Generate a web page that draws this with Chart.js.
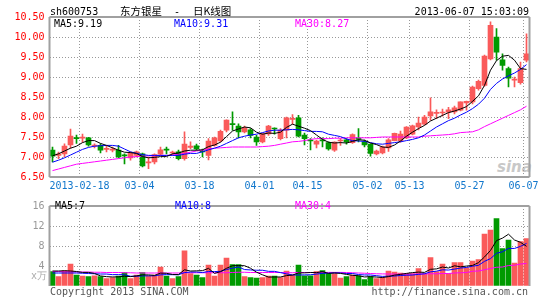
<!DOCTYPE html>
<html>
<head>
<meta charset="utf-8">
<script src="https://cdn.jsdelivr.net/npm/chart.js@4/dist/chart.umd.min.js"></script>
<style>
body { margin: 0; background: #fff; }
#wrap { position: relative; width: 545px; height: 300px; overflow: hidden; font-family: "DejaVu Sans Mono", monospace; font-size: 10px; }
canvas { position: absolute; left: 0; }
.t { position: absolute; white-space: pre; line-height: 10px; }
.cn { position: absolute; white-space: pre; font-family: 'Noto Sans CJK SC'; font-size: 10.5px; line-height: 12px; top: 5px; }
</style>
</head>
<body>
<div id="wrap">
  <div class="t" style="left:497px;top:160px;font:italic bold 15px 'DejaVu Sans';line-height:15px;color:#c8c8c8;">sina</div>
  <canvas id="kline" width="545" height="195" style="top:0"></canvas>
  <canvas id="vol" width="545" height="105" style="top:195px"></canvas>

  <div class="t" style="left:50px;top:7px">sh600753</div>
  <div class="cn" style="left:120px">东方银星</div>
  <div class="t" style="left:174px;top:7px">-</div>
  <div class="cn" style="left:193px">日K线图</div>
  <div class="t" style="right:16px;top:7px">2013-06-07 15:03:09</div>

  <div class="t" style="left:54px;top:19px;color:#000">MA5:9.19</div>
  <div class="t" style="left:174px;top:19px;color:#0000ff">MA10:9.31</div>
  <div class="t" style="left:295px;top:19px;color:#ff00ff">MA30:8.27</div>

  <div class="t" style="left:55px;top:201px;color:#000">MA5:7</div>
  <div class="t" style="left:175px;top:201px;color:#0000ff">MA10:8</div>
  <div class="t" style="left:295px;top:201px;color:#ff00ff">MA30:4</div>

  <div class="t" style="left:31px;top:271px;color:#aaa">x万</div>
  <div class="t" style="left:50px;top:287px;color:#555">Copyright 2013 SINA.COM</div>
  <div class="t" style="right:17px;top:287px;color:#555">http://finance.sina.com.cn</div>
</div>

<script>
// trading days, 2013-02-04 .. 2013-06-07
const dates = [
  '02-04','02-05','02-06','02-07','02-08','02-18','02-19','02-20','02-21','02-22',
  '02-25','02-26','02-27','02-28','03-01','03-04','03-05','03-06','03-07','03-08',
  '03-11','03-12','03-13','03-14','03-15','03-18','03-19','03-20','03-21','03-22',
  '03-25','03-26','03-27','03-28','03-29','04-01','04-02','04-03','04-08','04-09',
  '04-10','04-11','04-12','04-15','04-16','04-17','04-18','04-19','04-22','04-23',
  '04-24','04-25','04-26','05-02','05-03','05-06','05-07','05-08','05-09','05-10',
  '05-13','05-14','05-15','05-16','05-17','05-20','05-21','05-22','05-23','05-24',
  '05-27','05-28','05-29','05-30','05-31','06-03','06-04','06-05','06-06','06-07'
];
const shownDates = ['02-18','03-04','03-18','04-01','04-15','05-02','05-13','05-27','06-07'];
const yearPrefix = '2013-';

const open = [
  7.17,7.04,7.08,7.30,7.48,7.47,7.48,7.27,7.29,7.19,
  7.17,7.17,7.05,6.98,7.04,7.08,6.85,6.88,7.07,7.19,
  7.10,7.13,6.96,7.24,7.28,7.15,7.04,7.29,7.40,7.67,
  7.83,7.77,7.63,7.68,7.50,7.38,7.58,7.72,7.46,7.67,
  7.94,7.98,7.55,7.42,7.32,7.43,7.36,7.17,7.40,7.43,
  7.36,7.47,7.38,7.32,7.08,7.10,7.23,7.41,7.40,7.48,
  7.57,7.75,7.82,8.03,8.09,8.10,8.12,8.13,8.17,8.35,
  8.38,8.71,8.79,9.45,10.00,9.43,9.21,8.92,8.86,9.42
];
const high = [
  7.25,7.12,7.33,7.70,7.55,7.57,7.49,7.33,7.33,7.27,
  7.25,7.29,7.08,7.13,7.15,7.10,7.00,7.08,7.25,7.25,
  7.15,7.17,7.63,7.38,7.32,7.20,7.46,7.50,7.67,7.93,
  8.13,7.83,7.77,7.71,7.54,7.60,7.79,7.73,7.71,8.00,
  8.06,8.04,7.60,7.46,7.42,7.48,7.38,7.38,7.46,7.46,
  7.58,7.71,7.42,7.33,7.17,7.27,7.46,7.60,7.65,7.76,
  7.80,8.00,8.04,8.48,8.18,8.20,8.24,8.27,8.38,8.40,
  8.77,8.92,9.55,10.38,10.21,9.58,9.25,9.00,9.37,10.08
];
const low = [
  6.88,6.96,7.00,7.22,7.34,7.37,7.27,7.23,7.10,7.13,
  7.13,6.98,6.83,6.92,7.00,6.75,6.71,6.83,7.04,7.08,
  7.05,6.93,6.92,7.21,7.17,7.00,6.93,7.27,7.38,7.63,
  7.67,7.48,7.60,7.48,7.29,7.35,7.54,7.57,7.43,7.48,
  7.82,7.50,7.30,7.18,7.23,7.25,7.17,7.14,7.29,7.32,
  7.34,7.38,7.25,7.02,7.05,7.08,7.14,7.40,7.37,7.46,
  7.55,7.68,7.80,7.92,7.96,8.02,7.96,8.08,8.15,8.17,
  8.33,8.67,8.77,9.43,9.42,9.17,8.75,8.75,8.82,9.38
];
const close = [
  7.02,7.07,7.27,7.52,7.46,7.49,7.30,7.30,7.17,7.21,
  7.19,7.00,7.03,7.10,7.13,6.78,6.88,7.06,7.18,7.17,
  7.12,6.96,7.32,7.27,7.20,7.13,7.40,7.48,7.64,7.92,
  7.81,7.63,7.73,7.54,7.38,7.58,7.77,7.70,7.67,7.98,
  7.96,7.52,7.46,7.40,7.40,7.40,7.20,7.37,7.42,7.38,
  7.56,7.44,7.30,7.09,7.15,7.25,7.43,7.59,7.57,7.75,
  7.78,7.85,8.00,8.13,8.11,8.12,8.18,8.23,8.38,8.39,
  8.75,8.89,9.52,10.29,9.62,9.29,8.97,8.94,9.21,9.58
];

const ma5 = [
  7.03,7.08,7.15,7.22,7.27,7.36,7.41,7.41,7.34,7.29,
  7.23,7.17,7.12,7.11,7.09,7.01,6.98,6.99,7.01,7.01,
  7.08,7.10,7.15,7.17,7.17,7.18,7.26,7.30,7.37,7.51,
  7.65,7.70,7.75,7.73,7.62,7.57,7.60,7.59,7.62,7.74,
  7.82,7.77,7.72,7.66,7.55,7.44,7.37,7.35,7.36,7.35,
  7.39,7.43,7.42,7.35,7.31,7.25,7.24,7.30,7.40,7.52,
  7.62,7.71,7.79,7.90,7.97,8.04,8.11,8.15,8.20,8.26,
  8.39,8.53,8.79,9.17,9.41,9.52,9.54,9.42,9.21,9.19
];
const ma10 = [
  6.87,6.92,6.98,7.05,7.12,7.19,7.24,7.27,7.28,7.29,
  7.29,7.27,7.20,7.13,7.09,7.06,7.04,7.04,7.04,7.04,
  7.04,7.04,7.07,7.09,7.09,7.13,7.18,7.22,7.27,7.34,
  7.41,7.48,7.52,7.55,7.57,7.61,7.65,7.67,7.67,7.68,
  7.69,7.68,7.66,7.64,7.64,7.63,7.57,7.54,7.51,7.45,
  7.41,7.40,7.39,7.36,7.33,7.32,7.34,7.36,7.38,7.41,
  7.44,7.48,7.55,7.65,7.75,7.83,7.91,7.97,8.05,8.12,
  8.21,8.32,8.47,8.69,8.84,8.95,9.03,9.10,9.19,9.31
];
const ma30 = [
  6.66,6.70,6.74,6.78,6.82,6.84,6.86,6.88,6.90,6.92,
  6.94,6.96,6.98,7.00,7.01,7.02,7.03,7.03,7.04,7.04,
  7.05,7.07,7.09,7.12,7.15,7.17,7.20,7.22,7.23,7.24,
  7.25,7.25,7.25,7.25,7.25,7.26,7.27,7.29,7.32,7.35,
  7.38,7.39,7.41,7.44,7.46,7.46,7.46,7.47,7.47,7.48,
  7.48,7.48,7.48,7.48,7.49,7.50,7.50,7.50,7.50,7.50,
  7.50,7.50,7.52,7.53,7.54,7.55,7.56,7.58,7.61,7.62,
  7.63,7.68,7.76,7.83,7.90,7.97,8.04,8.11,8.18,8.27
];

// volume, unit: 10k lots
const volume = [
  2.9,1.9,3.1,4.4,2.2,2.0,1.9,2.05,1.9,1.5,
  1.7,2.0,2.7,1.5,2.2,2.7,2.0,2.2,3.8,2.0,
  1.5,1.9,7.05,2.5,2.2,1.7,4.2,2.0,4.2,5.6,
  4.3,4.3,1.9,1.7,1.6,1.7,2.0,2.0,1.7,3.0,
  2.2,4.2,2.05,2.05,2.9,3.1,2.5,2.5,1.6,1.9,
  2.2,2.05,1.3,1.9,1.5,1.7,3.0,2.8,2.6,2.5,
  2.5,3.5,2.5,5.7,2.9,4.4,2.5,4.7,4.7,3.65,
  5.0,5.3,10.4,11.2,13.5,7.5,9.2,4.6,8.9,9.5
];
const volMa5 = [
  3.0,3.0,3.05,3.0,2.9,2.72,2.72,2.51,2.01,1.87,
  1.81,1.83,1.96,1.88,2.02,2.22,2.22,2.12,2.58,2.54,
  2.3,2.28,3.25,2.99,3.03,3.07,3.53,2.52,2.86,3.54,
  4.06,4.08,4.06,3.56,2.76,2.24,1.78,1.8,1.8,2.08,
  2.18,2.62,2.63,2.7,2.68,2.86,2.52,2.61,2.52,2.32,
  2.14,2.05,1.81,1.87,1.79,1.69,1.88,2.18,2.32,2.52,
  2.68,2.78,2.72,3.34,3.42,3.8,3.6,4.04,3.84,3.99,
  4.11,4.67,5.81,7.11,9.08,9.58,10.36,9.2,8.74,7.94
];
const volMa10 = [
  2.6,2.6,2.6,2.6,2.6,2.55,2.5,2.45,2.4,2.39,
  2.27,2.28,2.24,1.95,1.95,2.02,2.03,2.04,2.23,2.28,
  2.26,2.25,2.69,2.79,2.79,2.69,2.91,2.89,2.93,3.29,
  3.57,3.81,3.29,3.21,3.15,3.15,2.93,2.93,2.68,2.42,
  2.21,2.2,2.22,2.25,2.38,2.52,2.57,2.62,2.61,2.5,
  2.5,2.29,2.21,2.2,2.06,1.92,1.97,2.0,2.1,2.16,
  2.19,2.33,2.45,2.83,2.97,3.24,3.19,3.38,3.59,3.71,
  3.96,4.14,4.93,5.48,6.54,6.85,7.52,7.51,7.93,8.51
];
const volMa30 = [
  2.9,2.9,2.85,2.85,2.8,2.8,2.8,2.75,2.75,2.7,
  2.7,2.7,2.65,2.65,2.6,2.6,2.6,2.6,2.6,2.6,
  2.6,2.6,2.65,2.65,2.65,2.65,2.65,2.65,2.65,2.65,
  2.7,2.75,2.75,2.7,2.7,2.7,2.7,2.7,2.7,2.66,
  2.65,2.7,2.7,2.7,2.7,2.72,2.72,2.72,2.72,2.7,
  2.65,2.6,2.55,2.5,2.45,2.42,2.4,2.38,2.36,2.36,
  2.38,2.4,2.4,2.45,2.45,2.5,2.5,2.6,2.65,2.7,
  2.95,3.0,3.25,3.5,3.75,3.8,4.1,4.15,4.4,4.5
];

const RED = '#fa5a5a';
const GREEN = '#009a00';
const GRID = '#999999';
const FRAME = '#a0a0a0';
const monoFont = { family: 'DejaVu Sans Mono', size: 10 };

// candle colour: red when it closed up
let candleColors = [];
for (let i = 0; i < close.length; i++) {
    candleColors.push(close[i] >= open[i] ? RED : GREEN);
}
let bodies = open.map((o, i) => [Math.min(o, close[i]), Math.max(o, close[i])]);
let wicks = low.map((l, i) => [l, high[i]]);

// dotted vertical lines on the left edge of the labelled days
const dateGrid = {
    id: 'dateGrid',
    beforeDatasetsDraw(chart) {
        const x = chart.scales.x;
        const a = chart.chartArea;
        const slot = x.getPixelForValue(1) - x.getPixelForValue(0);
        const ctx = chart.ctx;
        ctx.save();
        ctx.strokeStyle = GRID;
        ctx.lineWidth = 1;
        ctx.setLineDash([1, 2]);
        ctx.beginPath();
        shownDates.forEach((d) => {
            const px = Math.floor(x.getPixelForValue(dates.indexOf(d)) - slot / 2) + 0.5;
            ctx.moveTo(px, a.top);
            ctx.lineTo(px, a.bottom);
        });
        ctx.stroke();
        ctx.restore();
    }
};

// grey box round the plot area
function framePlugin(sides) {
    return {
        id: 'frame',
        afterDraw(chart) {
            const a = chart.chartArea;
            const ctx = chart.ctx;
            ctx.save();
            ctx.strokeStyle = FRAME;
            ctx.lineWidth = 2;
            ctx.beginPath();
            if (sides.includes('top')) { ctx.moveTo(a.left, a.top); ctx.lineTo(a.right, a.top); }
            if (sides.includes('left')) { ctx.moveTo(a.left, a.top); ctx.lineTo(a.left, a.bottom); }
            if (sides.includes('right')) { ctx.moveTo(a.right, a.top); ctx.lineTo(a.right, a.bottom); }
            if (sides.includes('bottom')) { ctx.moveTo(a.left, a.bottom); ctx.lineTo(a.right, a.bottom); }
            ctx.stroke();
            ctx.restore();
        }
    };
}

function xScale(showLabels) {
    return {
        offset: true,
        grid: { display: false, drawTicks: false },
        border: { display: false },
        ticks: {
            display: showLabels,
            autoSkip: false,
            maxRotation: 0,
            minRotation: 0,
            color: '#1177cc',
            font: monoFont,
            padding: 3,
            labelOffset: -3,
            callback: (v, i) => {
                if (!shownDates.includes(dates[i])) return '';
                return dates[i] === shownDates[0] ? yearPrefix + dates[i] : dates[i];
            }
        },
        afterFit: (s) => { s.height = showLabels ? 18 : 0; }
    };
}

function lineSet(data, color) {
    return { type: 'line', data: data, borderColor: color, borderWidth: 1, pointRadius: 0, tension: 0, order: 0 };
}

// price chart
new Chart(document.getElementById('kline'), {
    type: 'bar',
    data: {
        labels: dates,
        datasets: [
            lineSet(ma5, '#000000'),
            lineSet(ma10, '#0000ff'),
            lineSet(ma30, '#ff00ff'),
            { data: bodies, backgroundColor: candleColors, barThickness: 5, minBarLength: 1, grouped: false, order: 1 },
            { data: wicks, backgroundColor: candleColors, barThickness: 1, grouped: false, order: 2 }
        ]
    },
    options: {
        responsive: false,
        animation: false,
        events: [],
        layout: { padding: { top: 17, right: 15.5, left: 0, bottom: 0 } },
        plugins: { legend: { display: false }, tooltip: { enabled: false } },
        scales: {
            x: xScale(true),
            y: {
                min: 6.5,
                max: 10.5,
                grid: { color: GRID, drawTicks: false },
                border: { display: false, dash: [1, 2] },
                ticks: { stepSize: 0.5, color: '#ff0000', font: monoFont, padding: 5, callback: (v) => v.toFixed(2) },
                afterFit: (s) => { s.width = 49.5; }
            }
        }
    },
    plugins: [dateGrid, framePlugin(['top', 'left', 'right', 'bottom'])]
});

// volume chart
new Chart(document.getElementById('vol'), {
    type: 'bar',
    data: {
        labels: dates,
        datasets: [
            lineSet(volMa5, '#000000'),
            lineSet(volMa10, '#0000ff'),
            lineSet(volMa30, '#ff00ff'),
            { data: volume, backgroundColor: candleColors, barThickness: 5, grouped: false, order: 1 }
        ]
    },
    options: {
        responsive: false,
        animation: false,
        events: [],
        layout: { padding: { top: 7, right: 15.5, left: 0, bottom: 14 } },
        plugins: { legend: { display: false }, tooltip: { enabled: false } },
        scales: {
            x: xScale(false),
            y: {
                min: 0,
                max: 16,
                grid: { color: (c) => c.tick && c.tick.value === 0 ? 'rgba(0,0,0,0)' : GRID, drawTicks: false },
                border: { display: false, dash: [1, 2] },
                ticks: { stepSize: 4, color: '#999999', font: monoFont, padding: 5, callback: (v) => v === 0 ? '' : v },
                afterFit: (s) => { s.width = 49.5; }
            }
        }
    },
    plugins: [dateGrid, framePlugin(['top', 'left', 'right'])]
});
</script>
</body>
</html>
